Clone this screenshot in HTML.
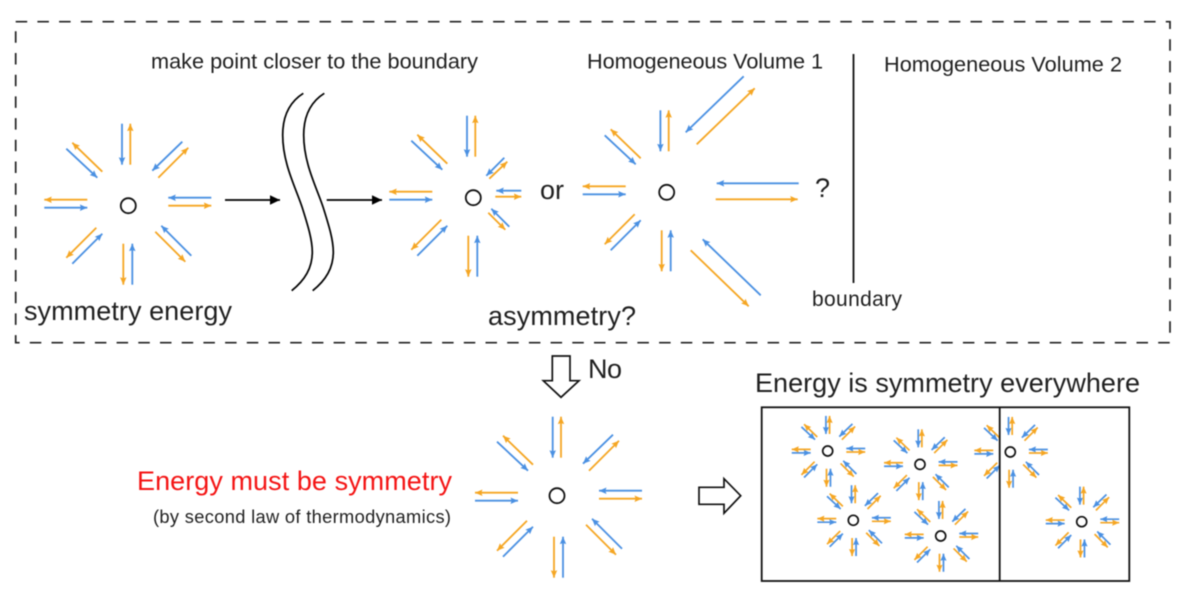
<!DOCTYPE html>
<html>
<head>
<meta charset="utf-8">
<style>
html,body{margin:0;padding:0;background:#fff;width:1200px;height:616px;overflow:hidden}
svg{display:block;filter:blur(0.45px)}
text{font-family:"Liberation Sans",Arial,sans-serif;fill:#1f1f1f}
.b{stroke:#4a90e2;stroke-width:1.8;fill:none;marker-end:url(#mb)}
.o{stroke:#f5a623;stroke-width:1.8;fill:none;marker-end:url(#mo)}
.sb{stroke:#4a90e2;stroke-width:3.9;fill:none;marker-end:url(#msb)}
.so{stroke:#f5a623;stroke-width:3.9;fill:none;marker-end:url(#mso)}
.c{fill:#fff;stroke:#111;stroke-width:1.8}
.cs{fill:#fff;stroke:#111;stroke-width:1.7}
</style>
</head>
<body>
<svg width="1200" height="616" viewBox="0 0 1200 616" xmlns="http://www.w3.org/2000/svg">
<defs>
<marker id="mb" markerUnits="userSpaceOnUse" markerWidth="8" markerHeight="7" refX="7.5" refY="3.25" orient="auto" viewBox="0 0 8 6.5"><path d="M0 0L7.5 3.25L0 6.5L1.2 3.25Z" fill="#4a90e2"/></marker>
<marker id="mo" markerUnits="userSpaceOnUse" markerWidth="8" markerHeight="7" refX="7.5" refY="3.25" orient="auto" viewBox="0 0 8 6.5"><path d="M0 0L7.5 3.25L0 6.5L1.2 3.25Z" fill="#f5a623"/></marker>
<marker id="msb" markerUnits="userSpaceOnUse" markerWidth="17" markerHeight="15" refX="16" refY="7" orient="auto" viewBox="0 0 17 14"><path d="M0 0L16 7L0 14L2 7Z" fill="#4a90e2"/></marker>
<marker id="mso" markerUnits="userSpaceOnUse" markerWidth="17" markerHeight="15" refX="16" refY="7" orient="auto" viewBox="0 0 17 14"><path d="M0 0L16 7L0 14L2 7Z" fill="#f5a623"/></marker>
<marker id="mk" markerUnits="userSpaceOnUse" markerWidth="10" markerHeight="10" refX="9.5" refY="4.5" orient="auto" viewBox="0 0 9.5 9"><path d="M0 0L9.5 4.5L0 9Z" fill="#000"/></marker>
<g id="L">
<line class="b" x1="-6.3" y1="-82" x2="-6.3" y2="-41"/>
<line class="o" x1="2" y1="-41" x2="2" y2="-82"/>
<line class="b" x1="4" y1="79" x2="4" y2="38"/>
<line class="o" x1="-5" y1="38" x2="-5" y2="79"/>
<line class="b" x1="-56" y1="58" x2="-26" y2="28"/>
<line class="o" x1="-32" y1="22" x2="-62" y2="52"/>
<line class="b" x1="-84" y1="2" x2="-41" y2="2"/>
<line class="o" x1="-41" y1="-6" x2="-84" y2="-6"/>
<line class="b" x1="-62" y1="-57" x2="-31" y2="-28"/>
<line class="o" x1="-26" y1="-34" x2="-56" y2="-63"/>
</g>
<g id="R">
<line class="b" x1="54" y1="-64" x2="24" y2="-35"/>
<line class="o" x1="30" y1="-28" x2="60" y2="-58"/>
<line class="b" x1="83" y1="-8" x2="40" y2="-8"/>
<line class="o" x1="40" y1="0" x2="83" y2="0"/>
<line class="b" x1="63" y1="50" x2="33" y2="20"/>
<line class="o" x1="27" y1="26" x2="57" y2="56"/>
</g>
<g id="sm">
<g transform="translate(1,1) scale(0.44)">
<line class="sb" x1="-6.3" y1="-82" x2="-6.3" y2="-41"/>
<line class="so" x1="2" y1="-41" x2="2" y2="-82"/>
<line class="sb" x1="4" y1="79" x2="4" y2="38"/>
<line class="so" x1="-5" y1="38" x2="-5" y2="79"/>
<line class="sb" x1="-56" y1="58" x2="-26" y2="28"/>
<line class="so" x1="-32" y1="22" x2="-62" y2="52"/>
<line class="sb" x1="-84" y1="2" x2="-41" y2="2"/>
<line class="so" x1="-41" y1="-6" x2="-84" y2="-6"/>
<line class="sb" x1="-62" y1="-57" x2="-31" y2="-28"/>
<line class="so" x1="-26" y1="-34" x2="-56" y2="-63"/>
<line class="sb" x1="54" y1="-64" x2="24" y2="-35"/>
<line class="so" x1="30" y1="-28" x2="60" y2="-58"/>
<line class="sb" x1="83" y1="-8" x2="40" y2="-8"/>
<line class="so" x1="40" y1="0" x2="83" y2="0"/>
<line class="sb" x1="63" y1="50" x2="33" y2="20"/>
<line class="so" x1="27" y1="26" x2="57" y2="56"/>
</g>
<circle class="cs" cx="0" cy="0" r="5"/>
</g>
</defs>

<rect x="15.7" y="21.7" width="1154.3" height="321" fill="none" stroke="#222" stroke-width="1.7" stroke-dasharray="11.5 10.2"/>

<text x="151" y="68.3" font-size="21.7" textLength="327" lengthAdjust="spacing">make point closer to the boundary</text>
<text x="587" y="68.3" font-size="21.7" textLength="236" lengthAdjust="spacing">Homogeneous Volume 1</text>
<text x="884" y="71.3" font-size="21.7" textLength="238" lengthAdjust="spacing">Homogeneous Volume 2</text>
<text x="24" y="320" font-size="27" textLength="208" lengthAdjust="spacing">symmetry energy</text>
<text x="488" y="325" font-size="27" textLength="148" lengthAdjust="spacing">asymmetry?</text>
<text x="540" y="199" font-size="27" textLength="24" lengthAdjust="spacing">or</text>
<text x="815" y="197" font-size="27">?</text>
<text x="812" y="306" font-size="21" textLength="90" lengthAdjust="spacing">boundary</text>
<text x="588" y="378" font-size="27" textLength="34" lengthAdjust="spacing">No</text>
<text x="755" y="392" font-size="27" textLength="385" lengthAdjust="spacing">Energy is symmetry everywhere</text>
<text x="137" y="490" font-size="27" textLength="315" lengthAdjust="spacing" style="fill:#f41414">Energy must be symmetry</text>
<text x="153" y="523" font-size="18.3" textLength="298" lengthAdjust="spacing">(by second law of thermodynamics)</text>

<g transform="translate(128.3,205.7)"><use href="#L"/><use href="#R"/><circle class="c" r="7.5"/></g>

<line x1="225" y1="200" x2="280" y2="200" stroke="#000" stroke-width="1.8" marker-end="url(#mk)"/>
<line x1="326.7" y1="200" x2="382" y2="200" stroke="#000" stroke-width="1.8" marker-end="url(#mk)"/>
<path d="M303.3 93.3C288 103 282.7 118 282.7 135C282.7 165 297 190 303 210C308 226 312.3 240 312.3 252C312.3 268 305 280 291.7 290.7" fill="none" stroke="#000" stroke-width="1.7"/>
<path d="M324.3 93.3C309 103 303.7 118 303.7 135C303.7 165 318 190 324 210C329 226 333.3 240 333.3 252C333.3 268 326 280 312.7 290.7" fill="none" stroke="#000" stroke-width="1.7"/>

<g transform="translate(473.3,197.7)"><use href="#L"/>
<line class="b" x1="31" y1="-40" x2="13" y2="-22"/>
<line class="o" x1="16" y1="-19" x2="34" y2="-36"/>
<line class="b" x1="48" y1="-7" x2="23" y2="-7"/>
<line class="o" x1="22" y1="-1" x2="48" y2="-1"/>
<line class="b" x1="36" y1="29" x2="18" y2="11"/>
<line class="o" x1="15" y1="15" x2="32" y2="32"/>
<circle class="c" r="7.5"/></g>

<g transform="translate(666.7,192.3)"><use href="#L"/>
<line class="b" x1="77" y1="-116" x2="19" y2="-60"/>
<line class="o" x1="30" y1="-48" x2="88" y2="-104"/>
<line class="b" x1="132" y1="-9" x2="50" y2="-9"/>
<line class="o" x1="49" y1="7" x2="131" y2="7"/>
<line class="b" x1="94" y1="103" x2="36" y2="47"/>
<line class="o" x1="24" y1="58" x2="82" y2="114"/>
<circle class="c" r="7.5"/></g>

<line x1="853.5" y1="54" x2="853.5" y2="283" stroke="#111" stroke-width="1.8"/>

<path d="M552.3 356H570V380.7H579L561 397.3L543.3 380.7H552.3Z" fill="#fff" stroke="#111" stroke-width="1.7"/>
<path d="M699 487.3H724V478.7L740.7 495.7L724 513.3V504.3H699Z" fill="#fff" stroke="#111" stroke-width="1.7"/>

<g transform="translate(557,495.7)"><g transform="translate(2,3)"><use href="#L"/><use href="#R"/></g><circle class="c" r="7.5"/></g>

<use href="#sm" x="827.7" y="451"/>
<use href="#sm" x="920" y="464.4"/>
<use href="#sm" x="853.3" y="520.3"/>
<use href="#sm" x="940.7" y="536"/>
<use href="#sm" x="1010.3" y="452"/>
<use href="#sm" x="1081.7" y="521.7"/>

<rect x="761.7" y="407.3" width="367.6" height="173.7" fill="none" stroke="#111" stroke-width="1.8"/>
<line x1="999.7" y1="407.3" x2="999.7" y2="581" stroke="#111" stroke-width="1.8"/>
</svg>
</body>
</html>
